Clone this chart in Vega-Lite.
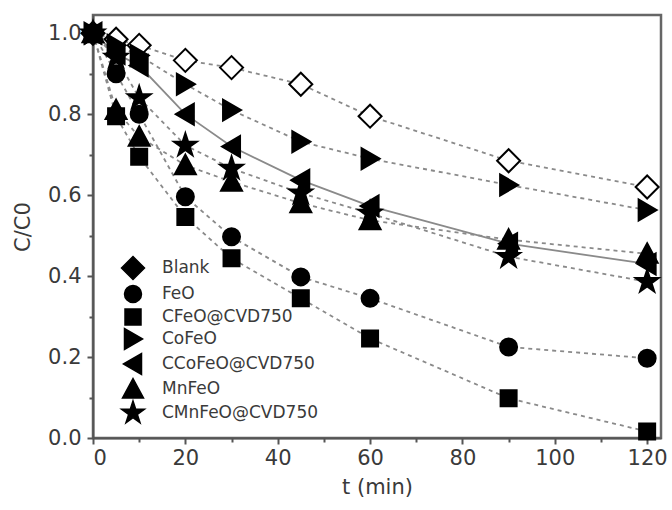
{
  "$schema": "https://vega.github.io/schema/vega-lite/v6.json",
  "width": 568,
  "height": 423,
  "autosize": {"type": "none"},
  "padding": {"left": 93, "top": 15, "right": 11, "bottom": 72},
  "background": "white",
  "config": {
    "view": {"stroke": "#666", "strokeWidth": 2.5},
    "font": "DejaVu Sans",
    "axis": {
      "domainColor": "#555",
      "domainWidth": 2,
      "tickColor": "#555",
      "tickWidth": 2,
      "grid": false,
      "labelFont": "DejaVu Sans",
      "labelFontSize": 21,
      "labelColor": "#3a3a3a",
      "titleFont": "DejaVu Sans",
      "titleFontSize": 21,
      "titleFontWeight": "normal",
      "titleColor": "#3a3a3a"
    }
  },
  "data": {
    "values": [
      {"series": "Blank", "t": 0, "c": 1.0},
      {"series": "Blank", "t": 5, "c": 0.985},
      {"series": "Blank", "t": 10, "c": 0.97},
      {"series": "Blank", "t": 20, "c": 0.933},
      {"series": "Blank", "t": 30, "c": 0.915},
      {"series": "Blank", "t": 45, "c": 0.874},
      {"series": "Blank", "t": 60, "c": 0.795},
      {"series": "Blank", "t": 90, "c": 0.685},
      {"series": "Blank", "t": 120, "c": 0.62},
      {"series": "FeO", "t": 0, "c": 1.0},
      {"series": "FeO", "t": 5, "c": 0.9},
      {"series": "FeO", "t": 10, "c": 0.8},
      {"series": "FeO", "t": 20, "c": 0.596},
      {"series": "FeO", "t": 30, "c": 0.497},
      {"series": "FeO", "t": 45, "c": 0.398},
      {"series": "FeO", "t": 60, "c": 0.345},
      {"series": "FeO", "t": 90, "c": 0.225},
      {"series": "FeO", "t": 120, "c": 0.197},
      {"series": "CFeO@CVD750", "t": 0, "c": 1.0},
      {"series": "CFeO@CVD750", "t": 5, "c": 0.795},
      {"series": "CFeO@CVD750", "t": 10, "c": 0.695},
      {"series": "CFeO@CVD750", "t": 20, "c": 0.546},
      {"series": "CFeO@CVD750", "t": 30, "c": 0.444},
      {"series": "CFeO@CVD750", "t": 45, "c": 0.345},
      {"series": "CFeO@CVD750", "t": 60, "c": 0.246},
      {"series": "CFeO@CVD750", "t": 90, "c": 0.098},
      {"series": "CFeO@CVD750", "t": 120, "c": 0.016},
      {"series": "CoFeO", "t": 0, "c": 1.0},
      {"series": "CoFeO", "t": 5, "c": 0.97},
      {"series": "CoFeO", "t": 10, "c": 0.945},
      {"series": "CoFeO", "t": 20, "c": 0.874},
      {"series": "CoFeO", "t": 30, "c": 0.81},
      {"series": "CoFeO", "t": 45, "c": 0.732},
      {"series": "CoFeO", "t": 60, "c": 0.69},
      {"series": "CoFeO", "t": 90, "c": 0.625},
      {"series": "CoFeO", "t": 120, "c": 0.563},
      {"series": "CCoFeO@CVD750", "t": 0, "c": 1.0},
      {"series": "CCoFeO@CVD750", "t": 5, "c": 0.95},
      {"series": "CCoFeO@CVD750", "t": 10, "c": 0.92},
      {"series": "CCoFeO@CVD750", "t": 20, "c": 0.8},
      {"series": "CCoFeO@CVD750", "t": 30, "c": 0.72},
      {"series": "CCoFeO@CVD750", "t": 45, "c": 0.637},
      {"series": "CCoFeO@CVD750", "t": 60, "c": 0.573},
      {"series": "CCoFeO@CVD750", "t": 90, "c": 0.48},
      {"series": "CCoFeO@CVD750", "t": 120, "c": 0.43},
      {"series": "MnFeO", "t": 0, "c": 1.0},
      {"series": "MnFeO", "t": 5, "c": 0.81},
      {"series": "MnFeO", "t": 10, "c": 0.744},
      {"series": "MnFeO", "t": 20, "c": 0.674},
      {"series": "MnFeO", "t": 30, "c": 0.633},
      {"series": "MnFeO", "t": 45, "c": 0.58},
      {"series": "MnFeO", "t": 60, "c": 0.538},
      {"series": "MnFeO", "t": 90, "c": 0.49},
      {"series": "MnFeO", "t": 120, "c": 0.455},
      {"series": "CMnFeO@CVD750", "t": 0, "c": 1.0},
      {"series": "CMnFeO@CVD750", "t": 5, "c": 0.94},
      {"series": "CMnFeO@CVD750", "t": 10, "c": 0.84},
      {"series": "CMnFeO@CVD750", "t": 20, "c": 0.723},
      {"series": "CMnFeO@CVD750", "t": 30, "c": 0.666},
      {"series": "CMnFeO@CVD750", "t": 45, "c": 0.605},
      {"series": "CMnFeO@CVD750", "t": 60, "c": 0.555},
      {"series": "CMnFeO@CVD750", "t": 90, "c": 0.448},
      {"series": "CMnFeO@CVD750", "t": 120, "c": 0.386}
    ]
  },
  "layer": [
    {
      "transform": [{"filter": "datum.series !== 'CCoFeO@CVD750'"}],
      "mark": {"type": "line", "color": "#8a8a8a", "strokeWidth": 1.8, "strokeDash": [4, 4]},
      "encoding": {
        "x": {"field": "t", "type": "quantitative", "scale": {"domain": [0, 123], "nice": false, "zero": false},
              "axis": {"values": [0, 20, 40, 60, 80, 100, 120], "tickSize": 6, "labelPadding": 3, "title": "t (min)", "titlePadding": 8}},
        "y": {"field": "c", "type": "quantitative", "scale": {"domain": [0, 1.045], "nice": false},
              "axis": {"values": [0, 0.2, 0.4, 0.6, 0.8, 1.0], "format": ".1f", "tickSize": 6, "labelPadding": 6, "title": "C/C0", "titlePadding": 14}},
        "detail": {"field": "series"}
      }
    },
    {
      "transform": [{"filter": "datum.series === 'CCoFeO@CVD750'"}],
      "mark": {"type": "line", "color": "#8a8a8a", "strokeWidth": 1.8},
      "encoding": {
        "x": {"field": "t", "type": "quantitative", "axis": null},
        "y": {"field": "c", "type": "quantitative", "axis": null}
      }
    },
    {
      "mark": {"type": "point", "filled": true, "opacity": 1, "stroke": "black", "strokeWidth": 2, "size": 400},
      "encoding": {
        "x": {"field": "t", "type": "quantitative", "axis": null},
        "y": {"field": "c", "type": "quantitative", "axis": null},
        "shape": {"field": "series", "type": "nominal",
          "scale": {"domain": ["Blank", "FeO", "CFeO@CVD750", "CoFeO", "CCoFeO@CVD750", "MnFeO", "CMnFeO@CVD750"],
                    "range": [
                      "M-1.15,0L0,-1.15L1.15,0L0,1.15Z",
                      "M0.85,0A0.85,0.85,0,1,1,-0.85,0A0.85,0.85,0,1,1,0.85,0Z",
                      "M-0.8,-0.8H0.8V0.8H-0.8Z",
                      "M0.95,0L-0.85,-1.05L-0.85,1.05Z",
                      "M-0.95,0L0.85,-1.05L0.85,1.05Z",
                      "M0,-1.05L1.05,0.9L-1.05,0.9Z",
                      "M0,-1.2L0.269,-0.371L1.141,-0.371L0.436,0.142L0.705,0.971L0,0.458L-0.705,0.971L-0.436,0.142L-1.141,-0.371L-0.269,-0.371Z"
                    ]},
          "legend": {"title": null, "orient": "none", "legendX": 29, "legendY": 242, "padding": 0, "rowPadding": -3,
                     "labelFont": "DejaVu Sans", "labelFontSize": 17, "labelColor": "#3a3a3a", "labelOffset": 18,
                     "symbolSize": 400,
                     "encode": {"symbols": {
                       "stroke": {"value": "black"},
                       "strokeWidth": {"value": 2},
                       "fill": {"condition": {"test": "datum.value === 'Blank'", "value": "white"}, "value": "black"}
                     }}}},
        "fill": {"field": "series", "type": "nominal",
          "scale": {"domain": ["Blank", "CCoFeO@CVD750", "CFeO@CVD750", "CMnFeO@CVD750", "CoFeO", "FeO", "MnFeO"],
                    "range": ["white", "black", "black", "black", "black", "black", "black"]},
          "legend": null}
      }
    },
    {
      "mark": {"type": "point", "opacity": 0},
      "encoding": {
        "x": {"field": "t", "type": "quantitative",
              "axis": {"values": [10, 30, 50, 70, 90, 110], "labels": false, "domain": false, "tickSize": 4, "title": null, "orient": "bottom"}},
        "y": {"field": "c", "type": "quantitative",
              "axis": {"values": [0.1, 0.3, 0.5, 0.7, 0.9], "labels": false, "domain": false, "tickSize": 4, "title": null, "orient": "left"}}
      }
    }
  ],
  "resolve": {"axis": {"x": "independent", "y": "independent"}}
}
